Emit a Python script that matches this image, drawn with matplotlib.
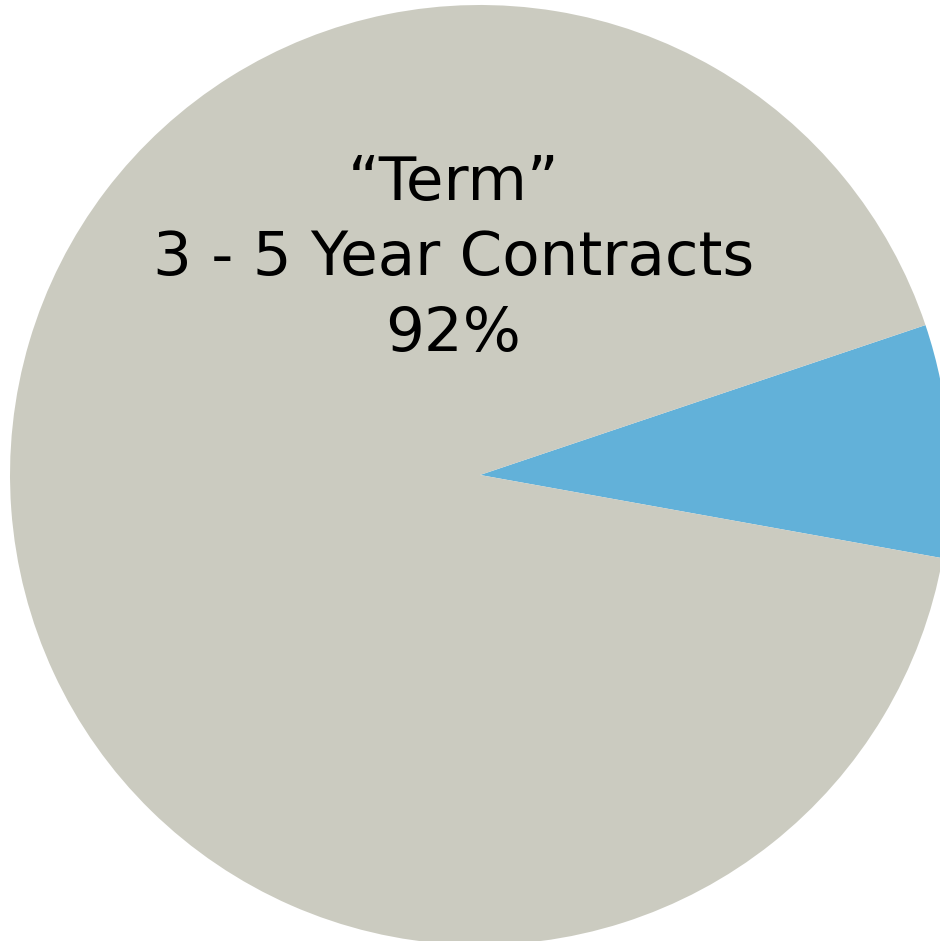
import matplotlib.pyplot as plt

# slice shares (percent)
labels = ["Spot", "Term 3 - 5 Year Contracts"]
shares = [8, 92]
colors = ["#62B1D9", "#CBCBC0"]

fig = plt.figure(figsize=(9.4, 9.41), dpi=100)
ax = fig.add_axes([0, 0, 1, 1])

ax.pie(shares, colors=colors, startangle=-10.2, counterclock=True,
       radius=1.0, wedgeprops=dict(linewidth=0))

ax.text(-0.057, 0.46, "\u201cTerm\u201d\n3 - 5 Year Contracts\n%d%%" % shares[1],
        ha="center", va="center", fontsize=44, linespacing=1.36,
        family="DejaVu Sans")

ax.set_xlim(-1.0213, 0.9787)
ax.set_ylim(-0.9915, 1.0106)
ax.set_aspect("equal")
ax.axis("off")

fig.savefig("out.png", dpi=100)
